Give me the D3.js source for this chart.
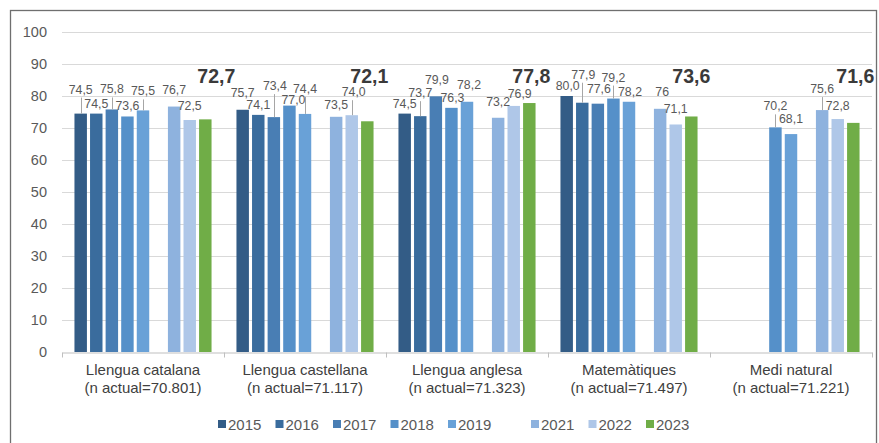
<!DOCTYPE html>
<html>
<head>
<meta charset="utf-8">
<script src="https://cdn.jsdelivr.net/npm/d3@7/dist/d3.min.js"></script>
<style>
  html, body { margin: 0; padding: 0; background: #ffffff; }
  svg { display: block; font-family: "Liberation Sans", Arial, sans-serif; }
</style>
</head>
<body>
<svg id="chart" width="879" height="443"></svg>
<script>
// ---------- DATA ----------
const subjects = ["Llengua catalana", "Llengua castellana", "Llengua anglesa", "Matemàtiques", "Medi natural"];
const subjectNotes = ["(n actual=70.801)", "(n actual=71.117)", "(n actual=71.323)", "(n actual=71.497)", "(n actual=71.221)"];
const years = ["2015", "2016", "2017", "2018", "2019", "2020", "2021", "2022", "2023"];
const legendYears = ["2015", "2016", "2017", "2018", "2019", "", "2021", "2022", "2023"];
// values as printed in the chart (Catalan decimal comma); null = no result
const valCatalana   = ["74,5", "74,5", "75,8", "73,6", "75,5", null, "76,7", "72,5", "72,7"];
const valCastellana = ["75,7", "74,1", "73,4", "77,0", "74,4", null, "73,5", "74,0", "72,1"];
const valAnglesa    = ["74,5", "73,7", "79,9", "76,3", "78,2", null, "73,2", "76,9", "77,8"];
const valMatematiques = ["80,0", "77,9", "77,6", "79,2", "78,2", null, "76", "71,1", "73,6"];
const valMediNatural = [null, null, null, "70,2", "68,1", null, "75,6", "72,8", "71,6"];
const seriesValues = [valCatalana, valCastellana, valAnglesa, valMatematiques, valMediNatural];
const yTicks = [0, 10, 20, 30, 40, 50, 60, 70, 80, 90, 100];

// ---------- LABEL LAYOUT (manual nudges of value labels, px) ----------
const labelLift = [
  [14, 0, 10, 0, 9, 0, 7, 4, 0],
  [7, 0, 21, -4, 15, 0, 2, 13, 0],
  [0, 13, 6, 0, 7, 0, 6, 2, 0],
  [0, 18, 5, 11, 0, 0, 7, 5, 0],
  [0, 0, 0, 11, 5, 0, 11, 3, 0]
];
const labelDx = [
  [0, 0, 0, 0, 0, 0, 0, 0, 11],
  [0, 0, 1, 4, 0, 0, 0, 2, 2],
  [0, 0, 1, 1, 2, 0, 0, 6, 2],
  [1, 1, 1, 0, 1, 0, 2, 0, 0],
  [0, 0, 0, 0, 0, 0, 0, 0, 2]
];

// ---------- STYLE ----------
const colors = {
  "2015": "#335c86", "2016": "#3a6c9d", "2017": "#497eb4", "2018": "#5590c9",
  "2019": "#69a1d7", "2020": "#ffffff", "2021": "#8eb2de", "2022": "#afc7e8", "2023": "#70ad47"
};

const svg = d3.select("#chart");
const plotLeft = 62, plotRight = 872, plotTop = 32, plotBottom = 352;

const x0 = d3.scaleBand().domain(subjects).range([plotLeft, plotRight]).padding(0);
const x1 = d3.scaleBand().domain(years).range([0, x0.bandwidth()]).paddingInner(0.2).paddingOuter(0.8);
const y = d3.scaleLinear().domain([0, 100]).range([plotBottom, plotTop]);
const num = s => +s.replace(",", ".");

// frame
svg.append("rect").attr("x", 10.5).attr("y", 10.5).attr("width", 866).attr("height", 445)
  .attr("fill", "none").attr("stroke", "#6f6f6f").attr("stroke-width", 1.3);

// gridlines
svg.append("g").selectAll("line").data(yTicks.filter(t => t > 0)).join("line")
  .attr("x1", plotLeft).attr("x2", plotRight)
  .attr("y1", d => Math.round(y(d)) + 0.5).attr("y2", d => Math.round(y(d)) + 0.5)
  .attr("stroke", "#d9d9d9").attr("stroke-width", 1);

// y axis labels
const yAxis = d3.axisLeft(y).tickValues(yTicks).tickSize(0).tickPadding(0).tickFormat(d3.format("d"));
const gy = svg.append("g").attr("transform", `translate(${plotLeft - 15},0)`).call(yAxis);
gy.select(".domain").remove();
gy.selectAll("text").attr("fill", "#595959").style("font-size", "14.5px")
  .style("font-family", "'Liberation Sans', Arial, sans-serif");

// bars
const flat = [];
subjects.forEach((s, si) => {
  years.forEach((yr, yi) => {
    const raw = seriesValues[si][yi];
    if (raw !== null) flat.push({ s, si, yr, yi, raw, v: num(raw) });
  });
});

svg.append("g").selectAll("rect").data(flat).join("rect")
  .attr("x", d => x0(d.s) + x1(d.yr))
  .attr("y", d => y(d.v))
  .attr("width", x1.bandwidth())
  .attr("height", d => y(0) - y(d.v))
  .attr("fill", d => colors[d.yr]);

// x axis line and ticks
const xAxis = d3.axisBottom(x0).tickSize(0).tickFormat("");
const gx = svg.append("g").attr("transform", `translate(0,${plotBottom + 0.5})`).call(xAxis);
gx.select(".domain").attr("stroke", "#bfbfbf");
gx.selectAll(".tick").remove();
const sepX = subjects.map(s => x0(s)).concat([plotRight]);
gx.selectAll("line.sep").data(sepX).join("line").attr("class", "sep")
  .attr("x1", d => Math.round(d) + 0.5).attr("x2", d => Math.round(d) + 0.5)
  .attr("y1", 0).attr("y2", 5).attr("stroke", "#bfbfbf");

// category labels
const cat = svg.append("g").selectAll("text").data(subjects).join("text")
  .attr("x", d => x0(d) + x0.bandwidth() / 2)
  .attr("text-anchor", "middle").attr("fill", "#404040").style("font-size", "15px");
cat.append("tspan").attr("x", d => x0(d) + x0.bandwidth() / 2).attr("y", 375).text(d => d);
cat.append("tspan").attr("x", d => x0(d) + x0.bandwidth() / 2).attr("y", 393)
  .text((d, i) => subjectNotes[i]);

// value labels
const small = flat.filter(d => d.yr !== "2023");
const barMid = d => x0(d.s) + x1(d.yr) + x1.bandwidth() / 2;
const labelBase = d => y(d.v) - 6 - labelLift[d.si][d.yi];
svg.append("g").selectAll("line").data(small.filter(d => labelLift[d.si][d.yi] >= 9)).join("line")
  .attr("x1", d => Math.round(barMid(d)) + 0.5)
  .attr("x2", d => Math.round(barMid(d)) + 0.5)
  .attr("y1", d => labelBase(d) + 4)
  .attr("y2", d => y(d.v))
  .attr("stroke", "#a6a6a6").attr("stroke-width", 1);

svg.append("g").selectAll("text").data(small).join("text")
  .attr("x", d => barMid(d) + labelDx[d.si][d.yi])
  .attr("y", labelBase)
  .attr("text-anchor", "middle").attr("fill", "#595959").style("font-size", "12.3px")
  .text(d => d.raw);

// big 2023 labels
svg.append("g").selectAll("text").data(flat.filter(d => d.yr === "2023")).join("text")
  .attr("x", d => barMid(d) + labelDx[d.si][d.yi])
  .attr("y", y(84))
  .attr("text-anchor", "middle").attr("fill", "#3a3a3a")
  .style("font-size", "19.5px").style("font-weight", "bold")
  .text(d => d.raw);

// legend
const legendStep = legendYears.map(k => (k === "" ? 25.5 : 57.5));
const legendX = legendStep.map((w, i) => 218 + d3.sum(legendStep.slice(0, i)));
const leg = svg.append("g").selectAll("g").data(legendYears.map((k, i) => ({ k, x: legendX[i] })).filter(d => d.k !== ""))
  .join("g").attr("transform", d => `translate(${d.x},0)`);
leg.append("rect").attr("x", 0).attr("y", 420).attr("width", 8).attr("height", 8)
  .attr("fill", d => colors[d.k]);
leg.append("text").attr("x", 10).attr("y", 429.5).attr("fill", "#595959")
  .style("font-size", "15px").text(d => d.k);
</script>
</body>
</html>
